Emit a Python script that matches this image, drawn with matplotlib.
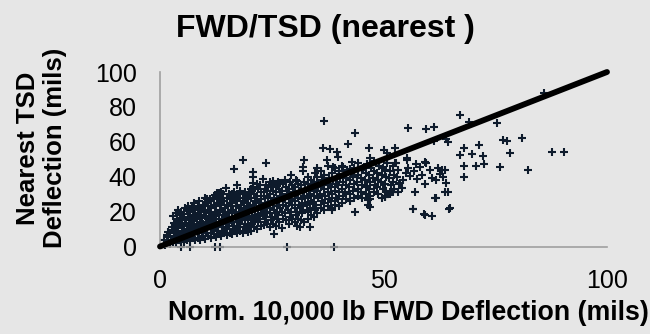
import numpy as np
import matplotlib
matplotlib.use("Agg")
import matplotlib.pyplot as plt

# normalised 10,000 lb FWD deflection (mils) vs nearest TSD deflection (mils)
# dense band in x-slices
band_a = [(1.2, 1.0), (1.0, 3.5), (1.6, 2.0), (1.9, 5.5), (1.7, 8.5), (2.3, 1.5), (2.5, 4.0), (2.2, 7.5),
          (2.6, 11.0), (2.9, 2.5), (3.1, 6.0), (2.8, 9.5), (3.2, 13.5), (3.0, 17.5), (3.6, 2.0), (3.4, 5.0),
          (3.7, 8.5), (3.5, 12.0), (3.8, 15.5), (3.6, 19.0), (4.1, 3.5), (4.3, 7.0), (4.0, 10.5), (4.2, 14.5),
          (4.4, 18.0), (4.0, 21.0), (4.8, 3.0), (4.6, 6.0), (4.9, 9.0), (4.7, 12.5), (5.0, 16.5), (4.8, 20.0),
          (5.3, 2.5), (5.5, 5.0), (5.2, 8.0), (5.4, 11.5), (5.6, 15.0), (5.3, 18.5), (5.5, 22.0), (6.0, 4.0),
          (5.8, 7.0), (6.1, 10.0), (5.9, 13.5), (6.2, 17.0), (6.0, 21.0), (6.6, 3.0), (6.4, 6.0), (6.7, 9.0),
          (6.5, 12.5), (6.8, 16.0), (6.6, 19.5), (6.3, 23.0), (7.1, 5.0), (7.3, 8.0), (7.0, 11.0), (7.2, 14.5),
          (7.4, 18.0), (7.1, 22.0), (7.8, 3.5), (7.6, 7.0), (7.9, 10.0), (7.7, 13.0), (8.0, 17.0), (7.8, 21.0),
          (7.6, 25.0), (8.4, 5.0), (8.2, 9.0), (8.5, 12.0), (8.3, 15.5), (8.6, 19.0), (8.4, 23.0), (9.0, 4.0),
          (8.8, 7.5), (9.1, 11.0), (8.9, 14.0), (9.2, 18.0), (9.0, 22.0), (8.8, 26.0), (9.6, 6.0), (9.4, 9.0),
          (9.7, 13.0), (9.5, 16.5), (9.8, 20.0), (9.6, 24.0)]

band_b = [(10.1, 4.5), (10.3, 8.0), (10.0, 11.0), (10.2, 14.0), (10.4, 17.0), (10.1, 21.0), (10.3, 25.0), (10.0, 28.0),
          (10.8, 6.0), (10.6, 10.0), (10.9, 13.0), (10.7, 16.0), (11.0, 19.0), (10.8, 23.0), (10.6, 27.0),
          (11.3, 5.0), (11.5, 8.0), (11.2, 12.0), (11.4, 15.0), (11.6, 18.0), (11.3, 22.0), (11.5, 26.0), (11.2, 27.5),
          (12.0, 7.0), (11.8, 10.0), (12.1, 14.0), (11.9, 17.0), (12.2, 20.0), (12.0, 24.0), (11.8, 28.0),
          (12.5, 5.5), (12.7, 9.0), (12.4, 12.0), (12.6, 16.0), (12.8, 19.0), (12.5, 23.0), (12.7, 27.0), (12.4, 29.5),
          (13.2, 7.0), (13.0, 11.0), (13.3, 14.0), (13.1, 18.0), (13.4, 21.0), (13.2, 25.0), (13.0, 29.0),
          (13.7, 6.0), (13.9, 9.0), (13.6, 13.0), (13.8, 16.0), (14.0, 20.0), (13.7, 24.0), (13.9, 28.0), (13.6, 31.0),
          (14.4, 8.0), (14.2, 11.0), (14.5, 15.0), (14.3, 18.0), (14.6, 22.0), (14.4, 26.0), (14.2, 30.0),
          (14.9, 6.5), (15.1, 10.0), (14.8, 13.0), (15.0, 17.0), (15.2, 20.0), (14.9, 24.0), (15.1, 28.0), (14.8, 33.5),
          (15.6, 8.0), (15.4, 12.0), (15.7, 15.0), (15.5, 19.0), (15.8, 23.0), (15.6, 27.0), (15.4, 30.0),
          (16.1, 7.0), (16.3, 10.0), (16.0, 14.0), (16.2, 17.0), (16.4, 21.0), (16.1, 25.0), (16.3, 29.0), (16.0, 30.0),
          (16.8, 9.0), (16.6, 12.0), (16.9, 16.0), (16.7, 19.0), (17.0, 23.0), (16.8, 27.0), (16.6, 31.0),
          (17.3, 7.5), (17.5, 11.0), (17.2, 14.0), (17.4, 18.0), (17.6, 22.0), (17.3, 26.0), (17.5, 30.0), (17.2, 35.5),
          (18.0, 9.0), (17.8, 13.0), (18.1, 16.0), (17.9, 20.0), (18.2, 24.0), (18.0, 28.0), (17.8, 32.0),
          (18.5, 8.0), (18.7, 11.0), (18.4, 15.0), (18.6, 19.0), (18.8, 22.0), (18.5, 26.0), (18.7, 30.0),
          (19.2, 10.0), (19.0, 13.0), (19.3, 17.0), (19.1, 21.0), (19.4, 25.0), (19.2, 29.0), (19.0, 31.5),
          (19.7, 8.5), (19.9, 12.0), (19.6, 16.0), (19.8, 19.0), (20.0, 23.0), (19.7, 27.0), (19.9, 31.0)]

band_c = [(20.4, 9.0), (20.6, 13.0), (20.3, 16.0), (20.5, 20.0), (20.7, 24.0), (20.4, 28.0), (20.6, 32.0), (20.3, 33.0),
          (21.1, 11.0), (20.9, 15.0), (21.2, 18.0), (21.0, 22.0), (21.3, 26.0), (21.1, 30.0), (20.9, 34.0),
          (21.8, 10.0), (22.0, 14.0), (21.7, 17.0), (21.9, 21.0), (22.1, 25.0), (21.8, 29.0), (22.0, 33.0), (21.7, 36.0),
          (22.5, 12.0), (22.3, 16.0), (22.6, 19.0), (22.4, 23.0), (22.7, 27.0), (22.5, 31.0), (22.3, 35.0),
          (23.2, 12.5), (23.4, 14.0), (23.1, 18.0), (23.3, 21.0), (23.5, 25.0), (23.2, 29.0), (23.4, 33.0), (23.1, 38.5),
          (23.9, 13.0), (23.7, 17.0), (24.0, 20.0), (23.8, 24.0), (24.1, 28.0), (23.9, 32.0), (23.7, 35.0),
          (24.6, 11.0), (24.8, 15.0), (24.5, 19.0), (24.7, 22.0), (24.9, 26.0), (24.6, 30.0), (24.8, 34.0), (24.5, 37.0),
          (25.3, 13.0), (25.1, 17.0), (25.4, 21.0), (25.2, 25.0), (25.5, 28.0), (25.3, 32.0), (25.1, 36.0),
          (26.0, 12.0), (26.2, 16.0), (25.9, 19.0), (26.1, 23.0), (26.3, 27.0), (26.0, 31.0), (26.2, 35.0), (25.9, 36.0),
          (26.7, 14.0), (26.5, 18.0), (26.8, 22.0), (26.6, 26.0), (26.9, 29.0), (26.7, 33.0), (26.5, 37.0),
          (27.4, 10.5), (27.6, 16.0), (27.3, 20.0), (27.5, 24.0), (27.7, 28.0), (27.4, 32.0), (27.6, 36.0),
          (28.1, 15.0), (27.9, 19.0), (28.2, 23.0), (28.0, 27.0), (28.3, 30.0), (28.1, 34.0), (27.9, 38.0),
          (28.8, 13.0), (29.0, 17.0), (28.7, 21.0), (28.9, 25.0), (29.1, 29.0), (28.8, 33.0), (29.0, 37.0),
          (29.5, 15.5), (29.3, 20.0), (29.6, 24.0), (29.4, 27.0), (29.7, 31.0), (29.5, 35.0), (29.3, 41.0),
          (30.2, 14.0), (30.4, 18.0), (30.1, 22.0), (30.3, 26.0), (30.5, 30.0), (30.2, 34.0), (30.4, 38.0),
          (30.9, 16.0), (30.7, 20.0), (31.0, 24.0), (30.8, 28.0), (31.1, 32.0), (30.9, 36.0), (30.7, 37.5),
          (31.6, 15.0), (31.8, 19.0), (31.5, 23.0), (31.7, 27.0), (31.9, 31.0), (31.6, 35.0),
          (32.3, 14.0), (32.1, 21.0), (32.4, 25.0), (32.2, 29.0), (32.5, 33.0), (32.3, 37.0), (32.1, 43.5),
          (33.0, 16.0), (33.2, 20.0), (32.9, 24.0), (33.1, 28.0), (33.3, 32.0), (33.0, 36.0), (33.2, 40.0),
          (33.7, 18.0), (33.5, 22.0), (33.8, 26.0), (33.6, 30.0), (33.9, 34.0), (33.7, 38.0),
          (34.4, 17.0), (34.6, 21.0), (34.3, 25.0), (34.5, 29.0), (34.7, 33.0), (34.4, 37.0), (34.6, 42.0)]

band_d = [(35.2, 19.0), (35.0, 24.0), (35.3, 28.0), (35.1, 32.0), (35.4, 36.0), (35.2, 40.0),
          (36.0, 22.0), (36.2, 26.0), (35.9, 30.0), (36.1, 34.0), (36.3, 38.0), (36.0, 43.0),
          (36.8, 21.0), (36.6, 25.0), (36.9, 29.0), (36.7, 33.0), (37.0, 37.0), (36.8, 41.0),
          (37.6, 23.0), (37.8, 27.0), (37.5, 31.0), (37.7, 35.0), (37.9, 39.0), (37.6, 46.0),
          (38.4, 22.0), (38.2, 26.0), (38.5, 30.0), (38.3, 34.0), (38.6, 38.0), (38.4, 42.0),
          (39.2, 24.0), (39.4, 28.0), (39.1, 32.0), (39.3, 36.0), (39.5, 40.0), (39.2, 45.0),
          (40.0, 23.0), (39.8, 27.0), (40.1, 31.0), (39.9, 35.0), (40.2, 39.0), (40.0, 43.0),
          (40.8, 25.0), (41.0, 29.0), (40.7, 33.0), (40.9, 37.0), (41.1, 41.0), (40.8, 46.0),
          (41.6, 27.0), (41.4, 31.0), (41.7, 35.0), (41.5, 39.0), (41.8, 44.0),
          (42.4, 26.0), (42.6, 30.0), (42.3, 34.0), (42.5, 38.0), (42.7, 42.0), (42.4, 44.5),
          (43.3, 28.0), (43.1, 32.0), (43.4, 36.0), (43.2, 40.0), (43.5, 45.0),
          (44.2, 29.0), (44.4, 33.0), (44.1, 37.0), (44.3, 41.0), (44.2, 48.0),
          (45.1, 28.0), (44.9, 31.0), (45.2, 35.0), (45.0, 39.0), (45.3, 44.0),
          (46.0, 30.0), (46.2, 34.0), (45.9, 38.0), (46.1, 42.0), (46.3, 47.0),
          (46.9, 29.0), (46.7, 33.0), (47.0, 37.0), (46.8, 41.0), (47.1, 45.0),
          (47.8, 31.0), (48.0, 35.0), (47.7, 39.0), (47.9, 43.0), (47.8, 49.0),
          (48.7, 30.0), (48.5, 34.0), (48.8, 38.0), (48.6, 42.0), (48.9, 46.0),
          (49.6, 28.0), (49.8, 33.0), (49.5, 37.0), (49.7, 41.0), (49.9, 45.0),
          (50.5, 32.0), (50.3, 36.0), (50.6, 40.0), (50.4, 44.0), (50.7, 48.0),
          (51.4, 30.0), (51.6, 35.0), (51.3, 39.0), (51.5, 43.0),
          (52.3, 33.0), (52.1, 37.0), (52.4, 41.0), (52.2, 46.0),
          (53.2, 31.0), (53.4, 36.0), (53.1, 40.0), (53.3, 44.0)]

# scattered points around the band
outliers = [(4.8, 0.0), (6.6, 0.0), (12.3, 0.0), (13.4, 0.0), (28.5, 0.0), (39.0, 0.0),
            (1.5, 6.6), (3.7, 19.0), (12.7, 30.8), (13.1, 30.8), (16.6, 44.2), (18.6, 49.6),
            (20.9, 42.9), (20.9, 39.6), (20.9, 36.2), (23.7, 47.7), (25.2, 37.7), (26.8, 36.2),
            (25.5, 7.0), (30.6, 11.7), (31.3, 11.3), (33.6, 11.3), (32.3, 49.6), (31.9, 45.4),
            (36.7, 71.9), (43.6, 64.9), (42.1, 58.6), (36.4, 56.3), (38.0, 55.7), (39.5, 54.3),
            (39.8, 51.1), (46.8, 56.3), (37.3, 49.6), (35.1, 44.8), (38.6, 45.4), (42.9, 48.6),
            (41.0, 45.4), (47.0, 50.5), (45.5, 44.8), (38.4, 20.9), (43.6, 19.9), (46.6, 23.8),
            (47.0, 27.0), (47.0, 22.8), (46.6, 26.6), (50.3, 28.9), (51.5, 31.4), (51.8, 31.4),
            (50.3, 28.2), (50.0, 55.3), (50.7, 53.8), (52.6, 56.3), (52.7, 48.0), (52.6, 47.7),
            (55.2, 49.6), (55.2, 50.5), (55.5, 67.7), (59.4, 67.2), (61.3, 68.3), (67.1, 75.4),
            (69.1, 71.5), (75.3, 70.6), (86.0, 88.1), (61.2, 60.5), (64.0, 61.6), (64.5, 59.7),
            (76.8, 61.0), (77.6, 60.5), (80.9, 62.4), (71.4, 58.2), (68.1, 56.3), (67.1, 52.4),
            (69.7, 52.8), (72.3, 51.9), (78.3, 53.8), (87.6, 54.0), (90.4, 54.2), (67.9, 46.1),
            (70.8, 46.1), (72.5, 47.1), (76.1, 45.7), (82.4, 43.8), (68.0, 40.0), (59.5, 48.0),
            (59.3, 48.2), (61.7, 27.6), (64.4, 31.4), (64.7, 21.5), (56.7, 21.5), (59.1, 18.6),
            (60.8, 17.7), (57.0, 31.4), (63.8, 31.4), (61.5, 27.6), (50.3, 28.5), (52.1, 31.0),
            (53.7, 36.2), (59.3, 35.8), (64.0, 36.6), (63.0, 43.8), (63.8, 43.8), (62.3, 44.8),
            (60.4, 43.8), (60.8, 39.1), (63.4, 40.0), (64.9, 21.9), (56.7, 21.3), (59.3, 18.0),
            (55.5, 45.0), (56.8, 43.5), (58.2, 45.6), (57.5, 38.5), (56.0, 40.2), (58.7, 41.0),
            (54.4, 38.0), (55.0, 42.0), (57.2, 47.0), (61.8, 38.0), (62.6, 41.5), (54.2, 33.5)]

one_to_one = [0, 100]

pts = band_a + band_b + band_c + band_d + outliers
fwd = np.array([p[0] for p in pts])
tsd = np.array([p[1] for p in pts])

plt.rcParams['font.family'] = ['Liberation Sans', 'DejaVu Sans']
bg = '#e6e6e6'

fig = plt.figure(figsize=(6.5, 3.34), dpi=100, facecolor=bg)
ax = fig.add_axes([160 / 650, 1 - 246.5 / 334, 447 / 650, 174.5 / 334], facecolor=bg)

ax.plot(fwd, tsd, '+', color='#0e1b2c', ms=6, mew=1.5, clip_on=False, zorder=2)
ax.plot(one_to_one, one_to_one, color='black', lw=4.2, solid_capstyle='round', clip_on=False, zorder=3)

ax.set_xlim(0, 100)
ax.set_ylim(0, 100)
ax.set_xticks([0, 50, 100])
ax.set_yticks([0, 20, 40, 60, 80, 100])
ax.tick_params(axis='both', length=0, labelsize=18, colors='black')
ax.tick_params(axis='x', pad=16.5)
ax.tick_params(axis='y', pad=16.8)

for s in ['top', 'right']:
    ax.spines[s].set_visible(False)
for s in ['left', 'bottom']:
    ax.spines[s].set_color('#a0a0a0')
    ax.spines[s].set_linewidth(1.2)

fig.text(0.5, 1 - 37 / 334, 'FWD/TSD (nearest )', ha='center', va='baseline',
         fontsize=23, fontweight='bold')
fig.text(408 / 650, 1 - 319.5 / 334, 'Norm. 10,000 lb FWD Deflection (mils)', ha='center',
         va='baseline', fontsize=19.3, fontweight='bold')
fig.text(41.5 / 650, 1 - 148 / 334, 'Nearest TSD\nDeflection (mils)', ha='center', va='center',
         rotation=90, fontsize=18.5, fontweight='bold', multialignment='center', linespacing=1.2)

fig.savefig('out.png', dpi=100, facecolor=bg)
